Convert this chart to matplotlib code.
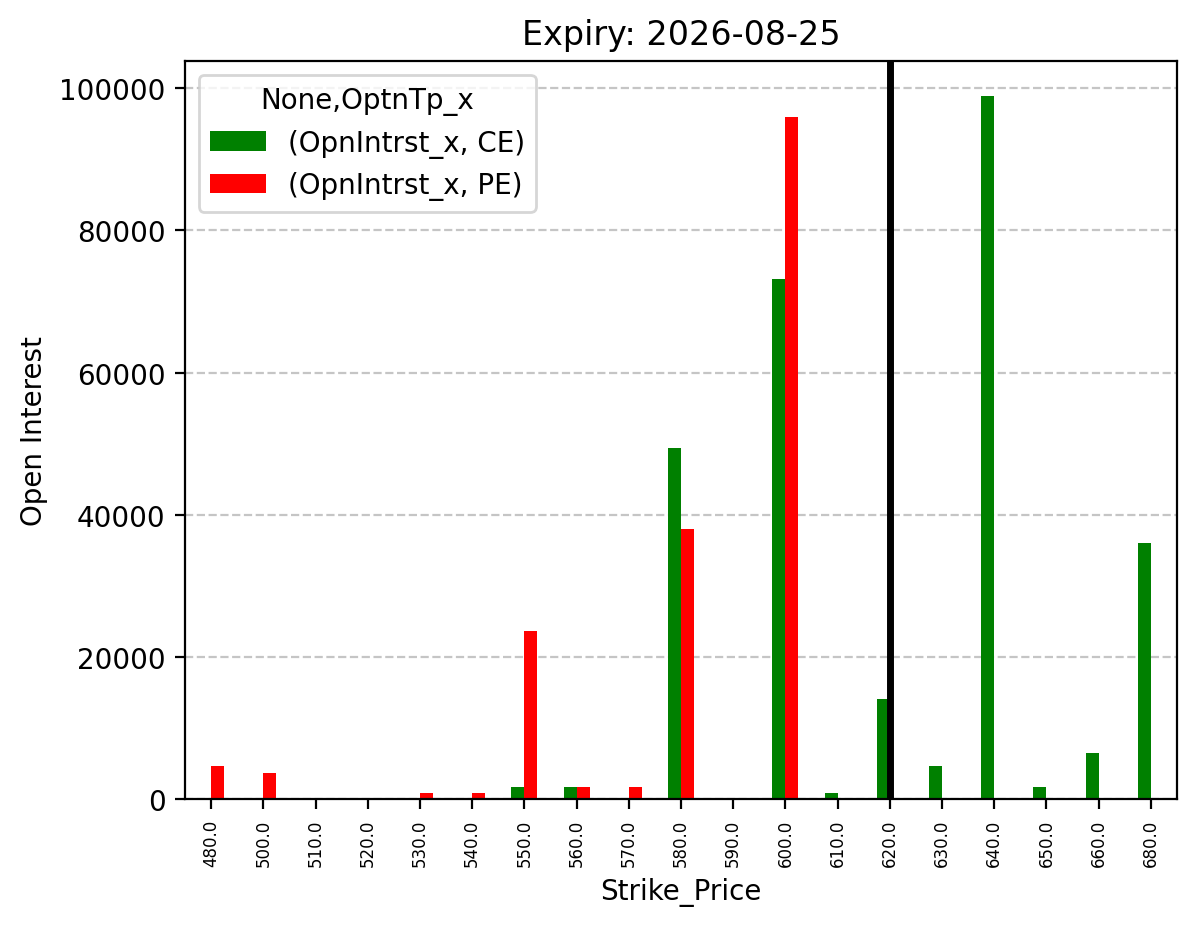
import matplotlib
matplotlib.use("Agg")
import matplotlib.pyplot as plt
import numpy as np

strikes = ["480.0", "500.0", "510.0", "520.0", "530.0", "540.0", "550.0", "560.0", "570.0",
           "580.0", "590.0", "600.0", "610.0", "620.0", "630.0", "640.0", "650.0", "660.0", "680.0"]
ce_oi = [0, 0, 0, 0, 0, 0, 1800, 1800, 0, 49400, 0, 73100, 900, 14100, 4700, 98900, 1800, 6500, 36000]
pe_oi = [4700, 3700, 0, 0, 900, 900, 23700, 1800, 1800, 38000, 0, 96000, 0, 0, 0, 0, 0, 0, 0]
spot_strike = "620.0"

fig = plt.figure(figsize=(5.98, 4.64), dpi=200)
ax = fig.add_axes([0.1547, 0.1374, 0.9841 - 0.1547, 0.9335 - 0.1374])

x = np.arange(len(strikes))
w = 0.25
ax.bar(x - w / 2, ce_oi, width=w, color="green", label="(OpnIntrst_x, CE)")
ax.bar(x + w / 2, pe_oi, width=w, color="red", label="(OpnIntrst_x, PE)")
ax.set_xticks(x)
ax.set_xticklabels(strikes, rotation=90, fontsize=6)
ax.set_xlim(-0.5, len(strikes) - 0.5)
ax.set_ylim(0, max(max(ce_oi), max(pe_oi)) * 1.05)

ax.axvline(strikes.index(spot_strike), color="black", linewidth=2.5)
ax.yaxis.grid(True, linestyle="--", color="gray", alpha=0.45)
ax.set_axisbelow(True)

ax.set_xlabel("Strike_Price")
ax.set_ylabel("Open Interest")
ax.set_title("Expiry: 2026-08-25")
ax.legend(title="None,OptnTp_x", loc="upper left")

fig.savefig("out.png", dpi=200)
